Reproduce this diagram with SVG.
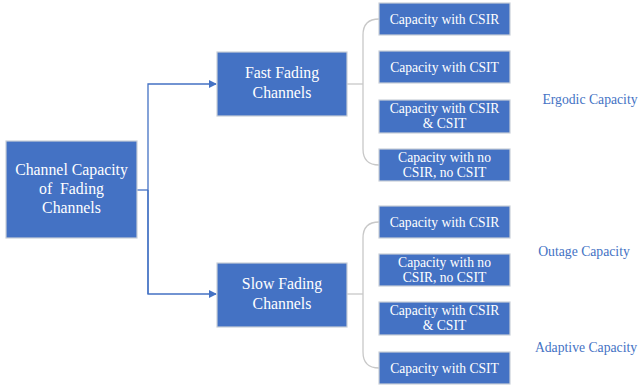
<svg xmlns="http://www.w3.org/2000/svg" width="640" height="388" viewBox="0 0 640 388">
<style>
.box{fill:#4472C4;stroke:#C9CFD8;stroke-width:1.2}
.t{font-family:"Liberation Serif","Times New Roman",serif;fill:#ffffff;text-anchor:middle;white-space:pre}
.big{font-size:15.8px}
.sm{font-size:13.6px}
.lbl{font-family:"Liberation Serif","Times New Roman",serif;fill:#4472C4;font-size:13.7px;text-anchor:middle}
.blue{fill:none;stroke:#4472C4;stroke-width:1.3}
.grey{fill:none;stroke:#C8C8C8;stroke-width:1.3}
</style>
<defs>
<marker id="arr" markerWidth="8" markerHeight="8" refX="7" refY="4" orient="auto" markerUnits="userSpaceOnUse">
<path d="M0,0 L8,4 L0,8 z" fill="#4472C4"/>
</marker>
</defs>
<rect width="640" height="388" fill="#ffffff"/>
<g id="connectors">
<path class="blue" d="M137,190 H148"/>
<path class="blue" d="M148,294 V84 H216" marker-end="url(#arr)"/>
<path class="blue" d="M148,190 V294 H216" marker-end="url(#arr)"/>
<path class="grey" d="M347,84 H363"/>
<path class="grey" d="M379,19 Q363,19 363,35 V149 Q363,165 379,165"/>
<path class="grey" d="M347,294 H363"/>
<path class="grey" d="M379,222 Q363,222 363,238 V352 Q363,368 379,368"/>
</g>
<g id="root">
<rect class="box" x="6" y="141" width="131" height="97"/>
<text class="t big" x="71.5" y="175">Channel Capacity</text>
<text class="t big" x="71.5" y="194">of  Fading</text>
<text class="t big" x="71.5" y="213">Channels</text>
</g>
<g id="fast">
<rect class="box" x="217" y="52" width="130" height="64"/>
<text class="t big" x="282" y="78">Fast Fading</text>
<text class="t big" x="282" y="98">Channels</text>
</g>
<g id="slow">
<rect class="box" x="217" y="263" width="130" height="64"/>
<text class="t big" x="282" y="289">Slow Fading</text>
<text class="t big" x="282" y="309">Channels</text>
</g>
<g id="f1">
<rect class="box" x="379" y="3" width="131" height="32"/>
<text class="t sm" x="444.5" y="23.5">Capacity with CSIR</text>
</g>
<g id="f2">
<rect class="box" x="379" y="51" width="131" height="32"/>
<text class="t sm" x="444.5" y="71.5">Capacity with CSIT</text>
</g>
<g id="f3">
<rect class="box" x="379" y="100" width="131" height="33"/>
<text class="t sm" x="444.5" y="113">Capacity with CSIR</text>
<text class="t sm" x="444.5" y="128">&amp; CSIT</text>
</g>
<g id="f4">
<rect class="box" x="379" y="149" width="131" height="32"/>
<text class="t sm" x="444.5" y="161.5">Capacity with no</text>
<text class="t sm" x="444.5" y="176.5">CSIR, no CSIT</text>
</g>
<g id="s1">
<rect class="box" x="379" y="206" width="131" height="32"/>
<text class="t sm" x="444.5" y="226.5">Capacity with CSIR</text>
</g>
<g id="s2">
<rect class="box" x="379" y="254" width="131" height="32"/>
<text class="t sm" x="444.5" y="266.5">Capacity with no</text>
<text class="t sm" x="444.5" y="281.5">CSIR, no CSIT</text>
</g>
<g id="s3">
<rect class="box" x="379" y="302" width="131" height="33"/>
<text class="t sm" x="444.5" y="315">Capacity with CSIR</text>
<text class="t sm" x="444.5" y="330">&amp; CSIT</text>
</g>
<g id="s4">
<rect class="box" x="379" y="352" width="131" height="32"/>
<text class="t sm" x="444.5" y="372.5">Capacity with CSIT</text>
</g>
<g id="labels">
<text class="lbl" x="590" y="104">Ergodic Capacity</text>
<text class="lbl" x="584" y="256">Outage Capacity</text>
<text class="lbl" x="586" y="352">Adaptive Capacity</text>
</g>
</svg>
